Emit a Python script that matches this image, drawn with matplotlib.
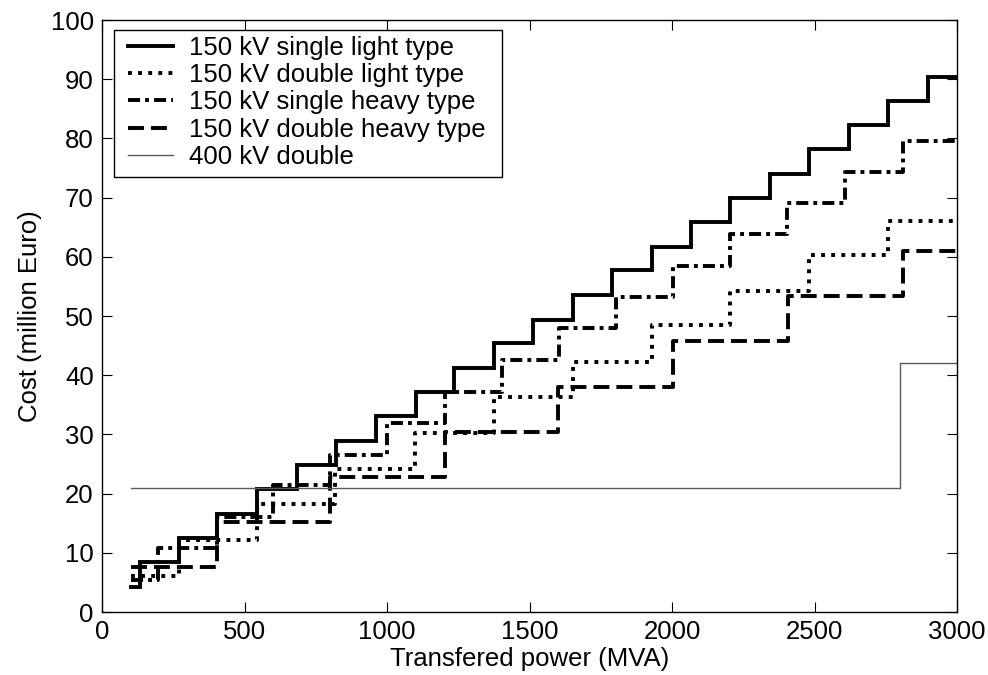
import matplotlib
matplotlib.use("Agg")
import matplotlib.pyplot as plt
from matplotlib.patches import Rectangle

plt.rcParams['font.family'] = ['Liberation Sans', 'DejaVu Sans']

# ---- data ----
# 150 kV single light type
sl_x = [100, 132, 269, 405, 543, 683, 821, 961, 1100, 1236, 1375, 1514, 1652,
        1791, 1929, 2066, 2203, 2344, 2482, 2621, 2758, 2897, 3000]
sl_y = [4.2, 8.4, 12.5, 16.6, 20.8, 24.9, 28.9, 33.1, 37.1, 41.3, 45.4, 49.4,
        53.6, 57.7, 61.7, 65.8, 70.0, 74.0, 78.2, 82.2, 86.3, 90.4]

# 150 kV double light type
dl_x = [100, 271, 543, 818, 1098, 1376, 1651, 1929, 2203, 2482, 2759, 3000]
dl_y = [6.0, 12.1, 18.2, 24.2, 30.3, 36.4, 42.2, 48.4, 54.3, 60.3, 66.1]

# 150 kV single heavy type
sh_x = [100, 198, 402, 601, 800, 1001, 1203, 1402, 1604, 1803, 2004, 2203,
        2402, 2607, 2810, 3000]
sh_y = [5.4, 10.8, 16.1, 21.4, 26.6, 31.9, 37.1, 42.6, 47.9, 53.2, 58.5,
        63.9, 69.1, 74.4, 79.6]

# 150 kV double heavy type
dh_x = [100, 402, 800, 1203, 1601, 2004, 2408, 2810, 3000]
dh_y = [7.6, 15.2, 22.8, 30.4, 38.0, 45.7, 53.3, 60.9]

# 400 kV double
hv_x = [100, 2800, 3000]
hv_y = [21.0, 42.0]

labels = ['150 kV single light type', '150 kV double light type',
          '150 kV single heavy type', '150 kV double heavy type',
          '400 kV double']

x_ticks = [0, 500, 1000, 1500, 2000, 2500, 3000]
y_ticks = [0, 10, 20, 30, 40, 50, 60, 70, 80, 90, 100]

# ---- figure ----
W, H = 988, 675
fig = plt.figure(figsize=(W / 100, H / 100), dpi=100)
ax = fig.add_axes([102 / W, 1 - 612 / H, (957 - 102) / W, (612 - 20) / H])

lw = 2.8
def stp(x, y, **kw):
    return ax.step(x, list(y) + [y[-1]], where='post', **kw)[0]

h1 = stp(sl_x, sl_y, color='black', lw=lw, solid_joinstyle='miter')
h2 = stp(dl_x, dl_y, color='black', lw=lw, linestyle=(0, (1, 1.6)))
h3 = stp(sh_x, sh_y, color='black', lw=lw, linestyle=(0, (3.1, 1.3, 1, 1.3)))
h4 = stp(dh_x, dh_y, color='black', lw=lw, linestyle=(0, (4.1, 1.8)))
h5 = stp(hv_x, hv_y, color='0.35', lw=1.0)

fs = 18.5
ax.set_xlim(0, 3000)
ax.set_ylim(0, 100)
ax.set_xticks(x_ticks)
ax.set_yticks(y_ticks)
ax.tick_params(direction='in', length=7, width=0.8, top=True, right=True,
               labelsize=fs, pad=6)
for s in ax.spines.values():
    s.set_linewidth(1.0)

ax.set_xlabel('Transfered power (MVA)', fontsize=fs, labelpad=2)
ax.set_ylabel('Cost (million Euro)', fontsize=fs, labelpad=6)

# legend frame (Matlab-like box with extra right padding)
frame = Rectangle((114 / W, 1 - 177 / H), (502 - 114) / W, (177 - 30) / H,
                  transform=fig.transFigure, facecolor='white',
                  edgecolor='black', lw=1.0, zorder=4, clip_on=False)
ax.add_patch(frame)

leg = ax.legend([h1, h2, h3, h4, h5], labels, loc='upper left',
                bbox_to_anchor=((120 - 102) / 855, 1 - (28 - 20) / 592),
                borderaxespad=0, fontsize=fs, handlelength=1.75,
                handletextpad=0.62, borderpad=0.3, labelspacing=0.13,
                frameon=False)
leg.set_zorder(5)

fig.savefig('out.png', dpi=100)
